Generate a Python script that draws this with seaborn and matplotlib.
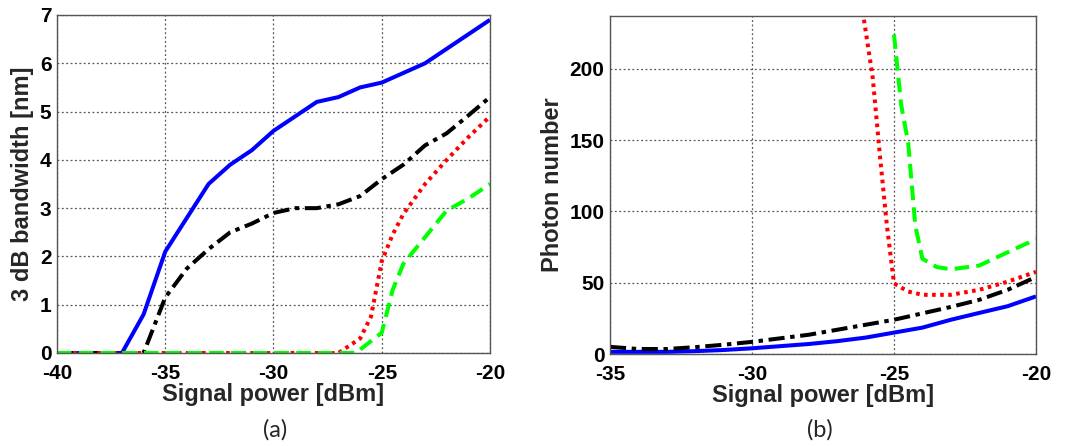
import numpy as np
import pandas as pd
import matplotlib
matplotlib.use("Agg")
import matplotlib.pyplot as plt
import seaborn as sns

# ---------------- data: panel (a) 3 dB bandwidth ----------------
a_blue_x = [-40, -39, -38, -37, -36, -35, -34, -33, -32, -31, -30, -29, -28, -27, -26, -25, -24, -23, -22, -21, -20]
a_blue_y = [0, 0, 0, 0, 0.8, 2.1, 2.8, 3.5, 3.9, 4.2, 4.6, 4.9, 5.2, 5.3, 5.5, 5.6, 5.8, 6.0, 6.3, 6.6, 6.9]

a_black_x = [-40, -39, -38, -37, -36, -35, -34, -33, -32, -31, -30, -29, -28, -27, -26, -25, -24, -23, -22, -21, -20]
a_black_y = [0, 0, 0, 0, 0, 1.15, 1.75, 2.15, 2.5, 2.68, 2.9, 3.0, 3.0, 3.08, 3.25, 3.6, 3.9, 4.3, 4.55, 4.92, 5.3]

a_red_x = [-40, -39, -38, -37, -36, -35, -34, -33, -32, -31, -30, -29, -28, -27, -26, -25.5, -25, -24.5, -24, -23, -22, -21, -20]
a_red_y = [0, 0, 0, 0, 0, 0, 0, 0, 0, 0, 0, 0, 0, 0, 0.3, 0.75, 1.9, 2.45, 2.88, 3.5, 4.0, 4.47, 4.9]

a_green_x = [-40, -39, -38, -37, -36, -35, -34, -33, -32, -31, -30, -29, -28, -27, -26.2, -25, -24.5, -24, -23, -22, -21, -20]
a_green_y = [0, 0, 0, 0, 0, 0, 0, 0, 0, 0, 0, 0, 0, 0, 0, 0.42, 1.3, 1.85, 2.4, 2.95, 3.2, 3.5]

# ---------------- data: panel (b) photon number ----------------
b_blue_x = [-35, -34, -33, -32, -31, -30, -29, -28, -27, -26, -25, -24, -23, -22, -21, -20]
b_blue_y = [1.5, 1.5, 1.5, 2.0, 2.8, 4.0, 5.5, 7.0, 9.0, 11.5, 15.0, 18.5, 24.0, 28.8, 33.5, 40.4]

b_black_x = [-35, -34, -33, -32, -31, -30, -29, -28, -27, -26, -25, -24, -23, -22, -21, -20]
b_black_y = [5.0, 3.5, 3.5, 4.8, 6.5, 8.5, 11.0, 13.5, 17.0, 20.5, 24.0, 28.5, 33.0, 38.0, 45.0, 54.0]

b_red_x = [-26.1, -25.75, -25.5, -25.25, -25, -24.5, -24, -23, -22, -21, -20]
b_red_y = [240, 194, 140, 90, 49.5, 43.8, 41.5, 41.5, 45.0, 50.7, 57.6]

b_green_x = [-25, -24.75, -24.5, -24.25, -24, -23.5, -23, -22, -21, -20]
b_green_y = [224, 175, 148, 90, 66.8, 61.0, 59.4, 62.0, 71.3, 80.5]

a_xticks = [-40, -35, -30, -25, -20]
a_yticks = [0, 1, 2, 3, 4, 5, 6, 7]
b_xticks = [-35, -30, -25, -20]
b_yticks = [0, 50, 100, 150, 200]

sns.set_theme(style="white")
plt.rcParams['font.family'] = ['Liberation Sans', 'DejaVu Sans']
plt.rcParams['axes.unicode_minus'] = False

fig = plt.figure(figsize=(10.70, 4.46), dpi=100)
axA = fig.add_axes([57/1070, 1-353/446, 433/1070, 338/446])
axB = fig.add_axes([610/1070, 1-354/446, 426/1070, 338/446])

LW = 2.9
styles = {
    'blue': dict(color=(0, 0, 1), dashes=None),
    'black': dict(color=(0, 0, 0), dashes=[4.0, 1.4, 1.1, 1.4]),
    'red': dict(color=(1, 0, 0), dashes=[0.9, 1.1]),
    'green': dict(color=(0, 1, 0), dashes=[3.6, 1.8]),
}

def draw(ax, x, y, key):
    sns.lineplot(x=x, y=y, ax=ax, color=styles[key]['color'], linewidth=LW,
                 sort=False, estimator=None)
    line = ax.lines[-1]
    if styles[key]['dashes'] is not None:
        line.set_dashes(styles[key]['dashes'])
    line.set_solid_capstyle('butt')
    line.set_dash_capstyle('butt')

draw(axA, a_blue_x, a_blue_y, 'blue')
draw(axA, a_black_x, a_black_y, 'black')
draw(axA, a_red_x, a_red_y, 'red')
draw(axA, a_green_x, a_green_y, 'green')

draw(axB, b_blue_x, b_blue_y, 'blue')
draw(axB, b_black_x, b_black_y, 'black')
draw(axB, b_red_x, b_red_y, 'red')
draw(axB, b_green_x, b_green_y, 'green')

axA.set_xlim(-40, -20)
axA.set_ylim(0, 7)
axA.set_xticks(a_xticks)
axA.set_yticks(a_yticks)
axB.set_xlim(-35, -20)
axB.set_ylim(0, 237)
axB.set_xticks(b_xticks)
axB.set_yticks(b_yticks)

for ax in (axA, axB):
    ax.grid(True, linestyle=(0, (1.5, 2.0)), color='#555555', linewidth=0.9)
    ax.set_axisbelow(True)
    for s in ax.spines.values():
        s.set_color('#555555')
        s.set_linewidth(1.0)
        s.set_visible(True)
    ax.tick_params(axis='both', direction='in', length=0, labelsize=15,
                   colors='black', pad=4)
    ax.tick_params(axis='x', pad=8)
    for lbl in ax.get_xticklabels() + ax.get_yticklabels():
        lbl.set_fontweight('bold')
    ax.set_xlabel('Signal power [dBm]', fontsize=17, fontweight='bold', labelpad=0)

axA.set_ylabel('3 dB bandwidth [nm]', fontsize=17, fontweight='bold', labelpad=4)
axB.set_ylabel('Photon number', fontsize=17, fontweight='bold', labelpad=4)

fig.text(275/1070, 1-430/446, '(a)', ha='center', va='center', fontsize=17,
         family=['Lato', 'DejaVu Sans'])
fig.text(820/1070, 1-430/446, '(b)', ha='center', va='center', fontsize=17,
         family=['Lato', 'DejaVu Sans'])

fig.savefig('out.png', dpi=100, facecolor='white')
